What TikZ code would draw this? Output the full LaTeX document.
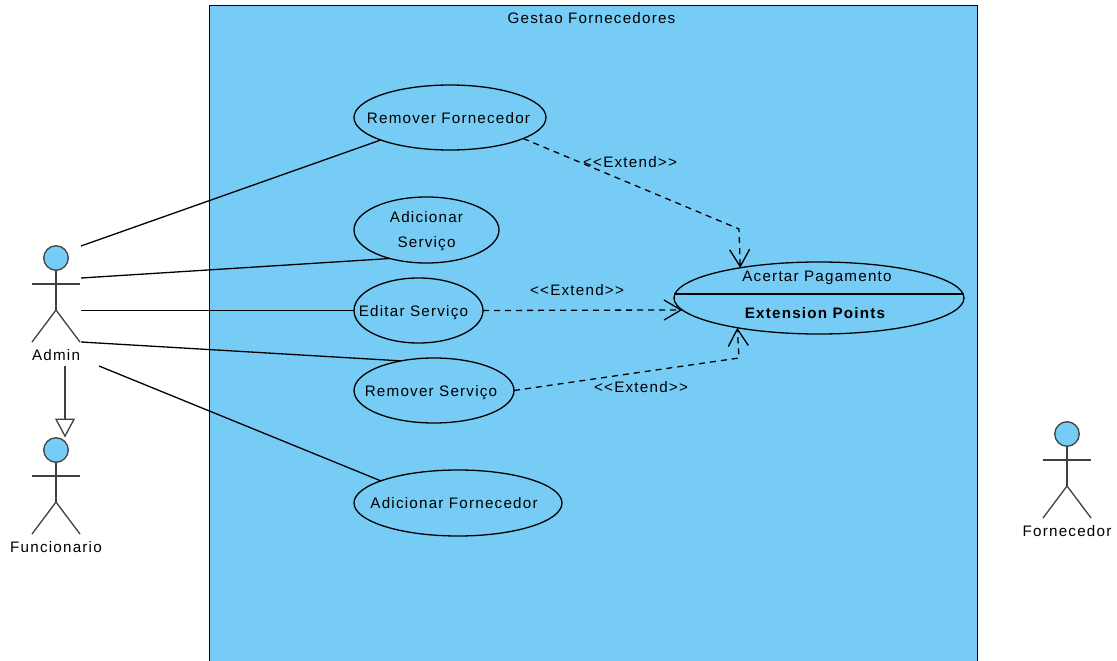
\documentclass[tikz,border=0pt]{standalone}
\usepackage{fontspec}
\setmainfont{Liberation Sans}[LetterSpace=8]
\usetikzlibrary{shapes.geometric,arrows.meta}
\definecolor{ucblue}{HTML}{76CCF5}
\definecolor{actorgrey}{HTML}{404040}
\tikzset{
  usecase/.style={ellipse,draw=black,line width=1.3pt,inner sep=0pt,outer sep=0pt,align=center,font=\fontsize{15.2}{24.5}\selectfont},
  label text/.style={inner sep=0pt,font=\fontsize{15.2}{18}\selectfont},
  assoc/.style={draw=black,line width=1.3pt},
  extendline/.style={draw=black,line width=1.3pt,dash pattern=on 6pt off 5pt,-{Straight Barb[length=17pt,width=20pt,line width=1.3pt]}},
  general/.style={draw=actorgrey,line width=1.3pt,-{Triangle[open,length=19pt,width=20pt,fill=white,line width=1.3pt]}},
  actorline/.style={draw=actorgrey,line width=1.3pt},
  actorhead/.style={circle,draw=actorgrey,fill=ucblue,line width=1.3pt,minimum size=24.5pt,inner sep=0pt,outer sep=0pt}
}
\newcommand{\umlactor}[5]{% name, x, y(head), label, label y
  \node[actorhead] (#1head) at (#2,#3) {};
  \coordinate (#1hip) at (#2,#3+52);
  \coordinate (#1arml) at (#2-24,#3+26);
  \coordinate (#1armr) at (#2+24,#3+26);
  \coordinate (#1footl) at (#2-24,#3+84);
  \coordinate (#1footr) at (#2+24,#3+84);
  \draw[actorline] (#1head) -- (#1hip);
  \draw[actorline] (#1arml) -- (#1armr);
  \draw[actorline] (#1footl) -- (#1hip) -- (#1footr);
  \node[label text] (#1label) at (#2,#5) {#4};
}
\newcommand{\uctext}[2]{\raisebox{-5.6pt}[0pt][0pt]{\makebox[0pt]{#1\hspace{#2}}}}
\begin{document}
\begin{tikzpicture}[x=1pt,y=-1pt]
\useasboundingbox (0,0) rectangle (1117,661);
\fill[white] (0,0) rectangle (1117,661);
% system boundary
\path[fill=ucblue,draw=black,line width=1.5pt] (209.5,670) -- (209.5,5.5) -- (977.5,5.5) -- (977.5,670);
\node[label text] (systitle) at (591.5,18) {Gestao Fornecedores};
% use cases
\node[usecase,minimum width=192pt,minimum height=65pt] (rf) at (450,117.5) {\uctext{Remover Fornecedor}{3pt}};
\node[usecase,minimum width=145pt,minimum height=66pt] (as) at (426.5,230) {\rule{0pt}{13pt}Adicionar\hspace{4pt}\\Serviço\hspace{4pt}};
\node[usecase,minimum width=129pt,minimum height=65pt] (es) at (418.5,310.5) {\uctext{Editar Serviço}{10pt}};
\node[usecase,minimum width=160pt,minimum height=65pt] (rs) at (434,390.5) {\uctext{Remover Serviço}{6pt}};
\node[usecase,minimum width=208pt,minimum height=66pt] (af) at (458,503) {\uctext{Adicionar Fornecedor}{8pt}};
\node[ellipse,draw=black,line width=1.3pt,inner sep=0pt,outer sep=0pt,minimum width=290pt,minimum height=72pt] (ap) at (819,298) {};
\coordinate (apl) at (674,294);
\coordinate (apr) at (964,294);
\draw[line width=1.3pt] (apl) -- (apr);
\node[label text] (aptitle) at (817,278) {Acertar Pagamento};
\node[label text,font=\fontsize{15.2}{18}\selectfont\bfseries] (apext) at (815,313) {Extension Points};
% actors
\umlactor{admin}{56}{258}{Admin}{355}
\umlactor{func}{56}{450}{Funcionario}{547}
\umlactor{forn}{1067}{434}{Fornecedor}{531}
% associations
\coordinate (a1) at (81,246);
\coordinate (a2) at (81,278);
\coordinate (a3) at (81,310.5);
\coordinate (a4) at (81,342);
\coordinate (a5) at (99,366);
\draw[assoc] (a1) -- (rf.198.6);
\draw[assoc] (a2) -- (as.218.9);
\draw[assoc] (a3) -- (es.west);
\draw[assoc] (a4) -- (rs.138.6);
\draw[assoc] (a5) -- (af.164.6);
% generalisation
\coordinate (gs) at (65,366);
\coordinate (ge) at (65,437.5);
\draw[general] (gs) -- (ge);
% extends
\coordinate (b1) at (739,229);
\coordinate (b3) at (739,358);
\draw[extendline] (rf.-16.7) -- (b1) -- (ap.159.4);
\draw[extendline] (es.east) -- (ap.185.2);
\draw[extendline] (rs.east) -- (b3) -- (ap.200.6);
\node[label text] (x1) at (630,162) {<{}<Extend>{}>};
\node[label text] (x2) at (577,290.5) {<{}<Extend>{}>};
\node[label text] (x3) at (641,387) {<{}<Extend>{}>};
\end{tikzpicture}
\end{document}
